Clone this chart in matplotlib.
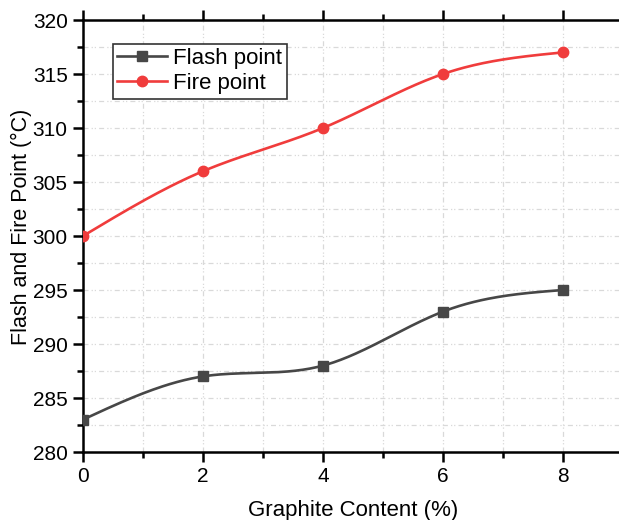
import numpy as np
import matplotlib
matplotlib.use('Agg')
import matplotlib.pyplot as plt
from matplotlib.ticker import MultipleLocator

# values
graphite = [0, 2, 4, 6, 8]
flash_point = [283, 287, 288, 293, 295]
fire_point = [300, 306, 310, 315, 317]

plt.rcParams['font.family'] = ['Liberation Sans', 'DejaVu Sans']


def natural_spline(x, y, n=200):
    """Spline cubique naturelle (comme le 'Spline' d'Origin) pour tracer la ligne lisse."""
    x = np.asarray(x, float); y = np.asarray(y, float)
    k = len(x)
    h = np.diff(x)
    A = np.zeros((k, k)); b = np.zeros(k)
    A[0, 0] = A[-1, -1] = 1.0
    for i in range(1, k-1):
        A[i, i-1] = h[i-1]
        A[i, i] = 2*(h[i-1] + h[i])
        A[i, i+1] = h[i]
        b[i] = 6*((y[i+1]-y[i])/h[i] - (y[i]-y[i-1])/h[i-1])
    M = np.linalg.solve(A, b)
    xs = np.linspace(x[0], x[-1], n)
    idx = np.clip(np.searchsorted(x, xs) - 1, 0, k-2)
    x0, x1 = x[idx], x[idx+1]
    hh = x1 - x0
    ys = (M[idx]*(x1-xs)**3/(6*hh) + M[idx+1]*(xs-x0)**3/(6*hh)
          + (y[idx]/hh - M[idx]*hh/6)*(x1-xs) + (y[idx+1]/hh - M[idx+1]*hh/6)*(xs-x0))
    return xs, ys


fig = plt.figure(figsize=(6.19, 5.2), dpi=100)
ax = fig.add_axes([83/619, 68/520, 540/619, 432/520])

c_flash = '#474747'
c_fire = '#f03c3c'

xs, ys = natural_spline(graphite, flash_point)
ax.plot(xs, ys, color=c_flash, lw=1.9, zorder=3)
ax.plot(graphite, flash_point, 's', color=c_flash, ms=7, zorder=4)
xs, ys = natural_spline(graphite, fire_point)
ax.plot(xs, ys, color=c_fire, lw=1.9, zorder=3)
ax.plot(graphite, fire_point, 'o', color=c_fire, ms=7.5, zorder=4)

# handles de légende (ligne + marqueur)
h1, = ax.plot([], [], '-s', color=c_flash, lw=1.9, ms=7, label='Flash point')
h2, = ax.plot([], [], '-o', color=c_fire, lw=1.9, ms=7.5, label='Fire point')

ax.set_xlim(0, 9)
ax.set_ylim(280, 320)
ax.xaxis.set_major_locator(MultipleLocator(2))
ax.xaxis.set_minor_locator(MultipleLocator(1))
ax.yaxis.set_major_locator(MultipleLocator(5))
ax.yaxis.set_minor_locator(MultipleLocator(2.5))

grid_ls = (0, (4, 2.5, 1, 1.5, 1, 2.5))
ax.grid(True, which='both', color='#d9d9d9', lw=0.9, linestyle=grid_ls, zorder=0)

for s in ['left', 'bottom', 'top']:
    ax.spines[s].set_linewidth(1.8)
ax.spines['right'].set_visible(False)
ax.tick_params(which='both', direction='out', width=1.8, top=True, labelsize=15, pad=4)
ax.tick_params(which='major', length=7)
ax.tick_params(which='minor', length=4)

ax.set_xlabel('Graphite Content (%)', fontsize=16, labelpad=10)
ax.set_ylabel('Flash and Fire Point (°C)', fontsize=15.5)
ax.yaxis.set_label_coords(-0.094, 0.521)

leg = ax.legend(handles=[h1, h2], loc='upper left', bbox_to_anchor=(0.055, 0.945),
                fontsize=16, frameon=True, fancybox=False, framealpha=1,
                edgecolor='#333333', handlelength=2.25, borderpad=0.2,
                labelspacing=0.18, handletextpad=0.27, borderaxespad=0)
leg.get_frame().set_linewidth(1.2)

fig.savefig('out.png', dpi=100)
